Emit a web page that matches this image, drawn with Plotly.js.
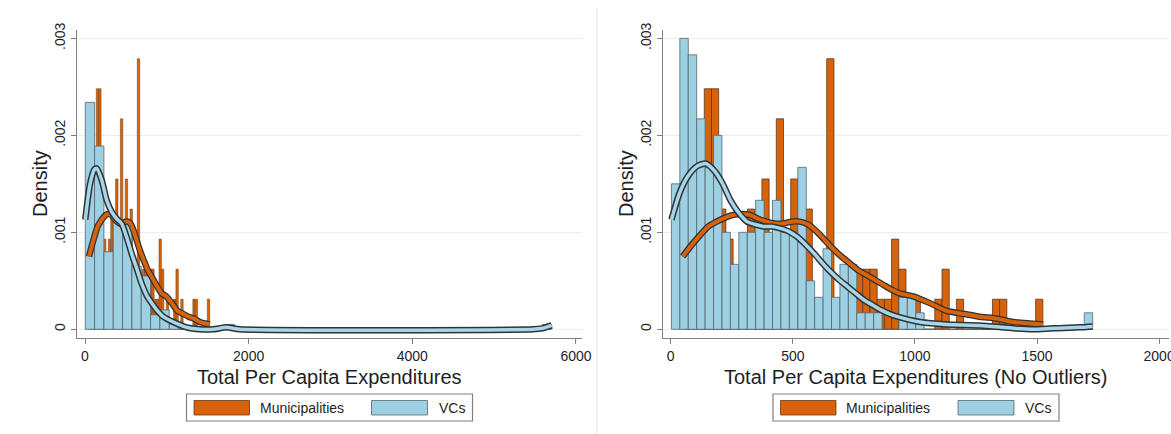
<!DOCTYPE html>
<html>
<head>
<meta charset="utf-8">
<script src="https://cdn.plot.ly/plotly-3.0.1.min.js"></script>
<style>
  html, body { margin: 0; padding: 0; background: #ffffff; }
  #chart { width: 1171px; height: 434px; }
</style>
</head>
<body>
<div id="chart"></div>
<script>
// ---- Histogram bins (first edge, bin width, density per bin) ----
// Municipalities: same sample in both panels
const muniBinStart = 49;
const muniBinWidth = 29.5;
const muniDensity = [
  0.00062, 0.00093, 0.00124, 0.00248, 0.00248, 0.00124, 0.00093, 0.00062, 0.00093, 0.00124,
  0.00093, 0.00155, 0.00093, 0.00217, 0.00093, 0.00155, 0.00093, 0.00124, 0.00031, 0.00031,
  0.00279, 0.00031, 0.00062, 0.00062, 0.00062, 0.00062, 0.00062, 0.00031, 0.00031, 0.00093,
  0.00062, 0, 0.00031, 0, 0, 0.00031, 0.00062, 0, 0.00031, 0,
  0, 0, 0, 0.00031, 0.00031, 0, 0, 0, 0, 0.00031
];

// VCs, full sample (left panel)
const vcAllBinStart = 3;
const vcAllBinWidth = 114;
const vcAllDensity = [
  0.00234, 0.00189, 0.0008, 0.0011, 0.0011, 0.00065, 0.00055, 0.00015, 0.0002, 0.00005,
  0, 0, 0, 0, 0, 0.00005, 0, 0, 0, 0,
  0, 0, 0, 0, 0, 0, 0, 0, 0, 0,
  0, 0, 0, 0, 0, 0, 0, 0, 0, 0,
  0, 0, 0, 0, 0, 0, 0, 0, 0, 0.00005
];

// VCs, outliers removed (right panel)
const vcBinStart = 3;
const vcBinWidth = 34.5;
const vcDensity = [
  0.0015, 0.003, 0.00283, 0.00217, 0.00167, 0.002, 0.001, 0.00067, 0.001, 0.001,
  0.00133, 0.001, 0.00133, 0.001, 0.001, 0.00167, 0.0005, 0.00033, 0.00083, 0.00033,
  0.00067, 0.00067, 0.00017, 0.00017, 0.00017, 0, 0, 0.00033, 0.00033, 0.00017,
  0, 0, 0, 0, 0, 0, 0, 0, 0, 0,
  0, 0, 0, 0, 0, 0, 0, 0, 0, 0.00017
];

// ---- Kernel density estimates ----
const muniKdeX = [49, 86, 120, 154, 188, 222, 256, 290, 324, 358, 392, 426, 460, 494, 529, 563, 597, 631,
  665, 699, 733, 767, 802, 836, 870, 904, 938, 993, 1061, 1130, 1198, 1266, 1335, 1403, 1471, 1525];
const muniKdeY = [0.00075, 0.00087, 0.00097, 0.00106, 0.00111, 0.00115, 0.00118, 0.00119, 0.00118, 0.00114,
  0.00111, 0.00109, 0.00109, 0.00111, 0.00111, 0.00108, 0.00101, 0.00092, 0.00083, 0.00075, 0.00068, 0.00061,
  0.00056, 0.00051, 0.00046, 0.00041, 0.00037, 0.00034, 0.00027, 0.00019, 0.00016, 0.00013, 0.00011, 0.000075,
  0.00006, 0.00005];

const vcAllKdeX = [3, 62, 117, 143, 204, 265, 326, 387, 448, 509, 570, 631, 693, 754, 815, 876, 957, 1079,
  1242, 1405, 1568, 1731, 1894, 5475, 5589, 5703];
const vcAllKdeY = [0.00113, 0.0015, 0.00165, 0.00166, 0.00154, 0.00133, 0.00121, 0.00114, 0.00109, 0.00095,
  0.00078, 0.00063, 0.00047, 0.00035, 0.00027, 0.0002, 0.00013, 0.000075, 0.00002, 0, 0, 0.00002, 0, 0,
  0.00001, 0.00004];

const vcKdeX = [3, 37, 71, 107, 143, 177, 211, 245, 279, 313, 347, 381, 415, 449, 483, 520, 554, 588, 622,
  656, 690, 724, 758, 793, 827, 861, 895, 929, 1021, 1130, 1266, 1403, 1484, 1566, 1676, 1728];
const vcKdeY = [0.00113, 0.00141, 0.00158, 0.00168, 0.00171, 0.00164, 0.00151, 0.00133, 0.0012, 0.00111,
  0.00108, 0.00106, 0.00106, 0.00104, 0.00101, 0.00095, 0.00087, 0.00078, 0.00068, 0.00059, 0.00051, 0.00044,
  0.00037, 0.0003, 0.00025, 0.0002, 0.00016, 0.00013, 0.000075, 0.00005, 0.00004, 0.00001, 0, 0.00001,
  0.00002, 0.00003];

// ---- Labels ----
const seriesNames = ['Municipalities', 'VCs'];
const xTitles = ['Total Per Capita Expenditures', 'Total Per Capita Expenditures (No Outliers)'];
const yTitle = 'Density';
const yTickVals = [0, 0.001, 0.002, 0.003];
const yTickText = ['0', '.001', '.002', '.003'];
const leftXTicks = [0, 2000, 4000, 6000];
const rightXTicks = [0, 500, 1000, 1500, 2000];

// ---- Styling ----
const W = 1171, H = 434;
const FONT = 'Liberation Sans, Arial, Helvetica, sans-serif';
const ORANGE = '#d8620a';
const BLUE = '#9dd0e2';
const AXIS = '#808080';
const GRID = '#e6eff1';
const px = v => v / W;          // horizontal pixel -> paper
const py = v => 1 - v / H;      // vertical pixel -> paper

function centers(start, width, n) {
  const out = [];
  for (let i = 0; i < n; i++) out.push(start + (i + 0.5) * width);
  return out;
}

function histTrace(start, width, dens, color, lineColor, lineW, xa, ya, name) {
  return {
    type: 'bar', x: centers(start, width, dens.length), y: dens, width: width,
    marker: { color: color, line: { color: lineColor, width: lineW } },
    xaxis: xa, yaxis: ya, name: name, hoverinfo: 'skip'
  };
}

function kdeTraces(xs, ys, color, outerW, innerW, xa, ya) {
  const common = { type: 'scatter', mode: 'lines', x: xs, y: ys, xaxis: xa, yaxis: ya, hoverinfo: 'skip' };
  return [
    Object.assign({}, common, { line: { color: '#2f3336', width: outerW, shape: 'spline', smoothing: 0.6 } }),
    Object.assign({}, common, { line: { color: color, width: innerW, shape: 'spline', smoothing: 0.6 } })
  ];
}

const traces = [
  // left panel
  histTrace(muniBinStart, muniBinWidth, muniDensity, ORANGE, '#6a3c18', 0.5, 'x', 'y', seriesNames[0]),
  histTrace(vcAllBinStart, vcAllBinWidth, vcAllDensity, BLUE, '#56666c', 0.8, 'x', 'y', seriesNames[1]),
  ...kdeTraces(muniKdeX, muniKdeY, ORANGE, 6.5, 4, 'x', 'y'),
  ...kdeTraces(vcAllKdeX, vcAllKdeY, '#a6d6e8', 6.5, 3.5, 'x', 'y'),
  // right panel
  histTrace(muniBinStart, muniBinWidth, muniDensity, ORANGE, '#5a3a1e', 0.8, 'x2', 'y2', seriesNames[0]),
  histTrace(vcBinStart, vcBinWidth, vcDensity, BLUE, '#56666c', 0.8, 'x2', 'y2', seriesNames[1]),
  ...kdeTraces(muniKdeX, muniKdeY, ORANGE, 6.5, 4, 'x2', 'y2'),
  ...kdeTraces(vcKdeX, vcKdeY, '#a6d6e8', 6.5, 3.5, 'x2', 'y2')
];

// y range maps 0 -> 329.3px and .003 -> 38.3px inside a frame running 30..338px
const yDomain = [py(338), py(30)];
const yRange = [-0.0000897, 0.003086];

function xAxis(domain, range, ticks, anchor) {
  return {
    domain: domain, range: range, tickvals: ticks, ticktext: ticks.map(String),
    ticks: 'outside', ticklen: 5, tickwidth: 1, tickcolor: AXIS,
    showline: true, linecolor: AXIS, linewidth: 1.2, showgrid: false, zeroline: false,
    tickfont: { family: FONT, size: 14, color: '#1e1e1e' }, ticklabeloverflow: 'allow',
    anchor: anchor, fixedrange: true
  };
}
function yAxis(anchor) {
  return {
    domain: yDomain, range: yRange, tickvals: yTickVals, ticktext: yTickText, tickangle: -90,
    ticks: 'outside', ticklen: 5, tickwidth: 1, tickcolor: AXIS,
    showline: true, linecolor: AXIS, linewidth: 1.2,
    showgrid: true, gridcolor: GRID, gridwidth: 1, zeroline: true, zerolinecolor: GRID, zerolinewidth: 1,
    tickfont: { family: FONT, size: 14, color: '#1e1e1e' },
    anchor: anchor, fixedrange: true
  };
}

const panels = [
  { left: 77, right: 582 },
  { left: 663, right: 1169 }
];

const annotations = [];
const shapes = [];

panels.forEach((p, k) => {
  const mid = (p.left + p.right) / 2;
  annotations.push({
    xref: 'paper', yref: 'paper', x: px(mid), y: py(377), xanchor: 'center', yanchor: 'middle',
    text: xTitles[k], showarrow: false, font: { family: FONT, size: 20, color: '#1e1e1e' }
  });
  annotations.push({
    xref: 'paper', yref: 'paper', x: px(p.left - 37), y: py(184), xanchor: 'center', yanchor: 'middle',
    text: yTitle, textangle: -90, showarrow: false, font: { family: FONT, size: 20, color: '#1e1e1e' }
  });
  // legend box
  const bx = mid - 143;
  shapes.push({ type: 'rect', xref: 'paper', yref: 'paper', x0: px(bx), x1: px(bx + 286), y0: py(421), y1: py(394),
    line: { color: AXIS, width: 1.2 }, fillcolor: '#ffffff' });
  shapes.push({ type: 'rect', xref: 'paper', yref: 'paper', x0: px(bx + 7.5), x1: px(bx + 63), y0: py(415), y1: py(400.5),
    line: { color: '#6a3c18', width: 0.8 }, fillcolor: ORANGE });
  shapes.push({ type: 'rect', xref: 'paper', yref: 'paper', x0: px(bx + 185), x1: px(bx + 241), y0: py(415), y1: py(400.5),
    line: { color: '#56666c', width: 0.8 }, fillcolor: BLUE });
  annotations.push({ xref: 'paper', yref: 'paper', x: px(bx + 71), y: py(408), xanchor: 'left', yanchor: 'middle',
    text: seriesNames[0], showarrow: false, font: { family: FONT, size: 14, color: '#1e1e1e' } });
  annotations.push({ xref: 'paper', yref: 'paper', x: px(bx + 250), y: py(408), xanchor: 'left', yanchor: 'middle',
    text: seriesNames[1], showarrow: false, font: { family: FONT, size: 14, color: '#1e1e1e' } });
});

// thin divider between the two panels
shapes.push({ type: 'line', xref: 'paper', yref: 'paper', x0: px(597), x1: px(597), y0: 0, y1: py(8),
  line: { color: '#e3e3e3', width: 1 } });

const layout = {
  width: W, height: H,
  margin: { l: 0, r: 0, t: 0, b: 0 },
  paper_bgcolor: '#ffffff', plot_bgcolor: '#ffffff',
  barmode: 'overlay', bargap: 0, showlegend: false,
  xaxis: xAxis([px(panels[0].left), px(panels[0].right)], [-97.8, 6073.6], leftXTicks, 'y'),
  yaxis: yAxis('x'),
  xaxis2: xAxis([px(panels[1].left), px(panels[1].right)], [-31.5, 2040.5], rightXTicks, 'y2'),
  yaxis2: yAxis('x2'),
  annotations: annotations,
  shapes: shapes
};

Plotly.newPlot('chart', traces, layout, { staticPlot: true, displayModeBar: false });
</script>
</body>
</html>
